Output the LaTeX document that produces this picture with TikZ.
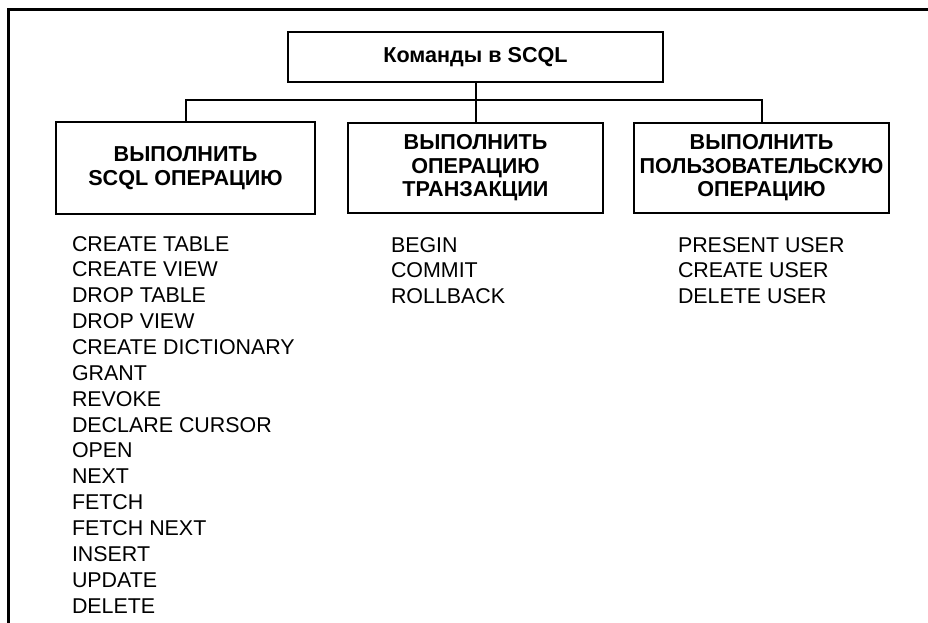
\documentclass[tikz,border=0pt]{standalone}
\usepackage{fontspec}
\setmainfont{Liberation Sans}
\usetikzlibrary{positioning}

\tikzset{
	cmdbox/.style={draw,line width=2pt,outer sep=0pt,inner sep=2pt,align=center,font=\fontsize{21.6}{23.5}\selectfont\bfseries},
	item/.style={anchor=north west,inner sep=0pt,outer sep=0pt,text height=16pt,text depth=0pt,font=\fontsize{21.4}{24}\selectfont},
	nextitem/.style={below=of #1.south west,anchor=north west}
}

\begin{document}
\begin{tikzpicture}[x=1pt,y=-1pt,node distance=9.86pt,line width=2pt]
	\useasboundingbox (0,0) rectangle (928,623);
	\draw[line width=3pt] (8,623) -- (8,10) -- (928,10);

	\node[cmdbox,minimum width=375pt,minimum height=50pt] (cmd) at (475.5,57) {Команды в SCQL};
	\node[cmdbox,minimum width=255pt,minimum height=90pt] (trop) [below=41pt of cmd] {ВЫПОЛНИТЬ\\ОПЕРАЦИЮ\\ТРАНЗАКЦИИ};
	\node[cmdbox,minimum width=259pt,minimum height=91pt] (sqlop) [left=33pt of trop] {ВЫПОЛНИТЬ\\SCQL ОПЕРАЦИЮ};
	\node[cmdbox,minimum width=255pt,minimum height=90pt] (usrop) [right=31pt of trop] {ВЫПОЛНИТЬ\\ПОЛЬЗОВАТЕЛЬСКУЮ\\ОПЕРАЦИЮ};

	\coordinate (bar) at (475.5,100);
	\draw (cmd) -- (trop);
	\draw (sqlop.north) |- (bar) -| (usrop.north);

	% sql operations
	\node[item] (crtab) at (72,235) {CREATE TABLE};
	\node[item,nextitem=crtab] (crview) {CREATE VIEW};
	\node[item,nextitem=crview] (drtab) {DROP TABLE};
	\node[item,nextitem=drtab] (drview) {DROP VIEW};
	\node[item,nextitem=drview] (crdict) {CREATE DICTIONARY};
	\node[item,nextitem=crdict] (grant) {GRANT};
	\node[item,nextitem=grant] (revoke) {REVOKE};
	\node[item,nextitem=revoke] (declcur) {DECLARE CURSOR};
	\node[item,nextitem=declcur] (open) {OPEN};
	\node[item,nextitem=open] (next) {NEXT};
	\node[item,nextitem=next] (fetch) {FETCH};
	\node[item,nextitem=fetch] (fetchnext) {FETCH NEXT};
	\node[item,nextitem=fetchnext] (insert) {INSERT};
	\node[item,nextitem=insert] (update) {UPDATE};
	\node[item,nextitem=update] (delete) {DELETE};

	% transactions
	\node[item] (begin) at (391,236) {BEGIN};
	\node[item,nextitem=begin] (commit) {COMMIT};
	\node[item,nextitem=commit] (rollback) {ROLLBACK};

	% users
	\node[item] (presuser) at (678,236) {PRESENT USER};
	\node[item,nextitem=presuser] (cruser) {CREATE USER};
	\node[item,nextitem=cruser] (deluser) {DELETE USER};
\end{tikzpicture}
\end{document}
